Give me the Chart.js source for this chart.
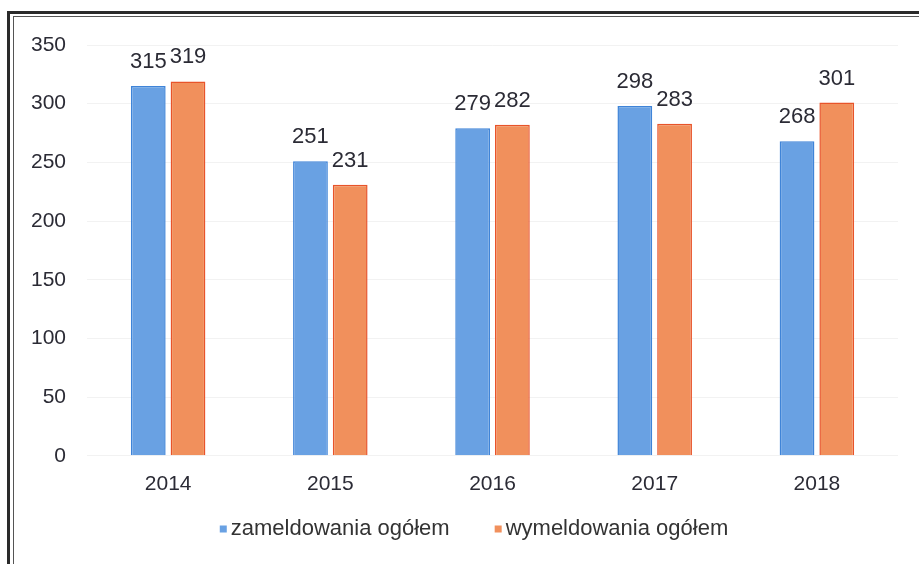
<!DOCTYPE html>
<html>
<head>
<meta charset="utf-8">
<script src="https://cdn.jsdelivr.net/npm/chart.js@4/dist/chart.umd.min.js"></script>
<style>
  html, body { margin: 0; padding: 0; background: #fff; overflow: hidden; }
  .frame-outer { position: absolute; left: 7px; top: 11px; width: 1000px; height: 700px; border-left: 3px solid #2a2a2a; border-top: 3px solid #2a2a2a; }
  .frame-inner { position: absolute; left: 13px; top: 16px; width: 1000px; height: 700px; border-left: 1px solid #555; border-top: 1px solid #555; }
  #wrap { position: absolute; left: 0; top: 0; width: 919px; height: 564px; }
</style>
</head>
<body>
<div class="frame-outer"></div>
<div class="frame-inner"></div>
<div id="wrap"><canvas id="chart"></canvas></div>
<script>
const years = ['2014', '2015', '2016', '2017', '2018']
const zameldowania = [315, 251, 279, 298, 268]
const wymeldowania = [319, 231, 282, 283, 301]
const seriesNames = ['zameldowania ogółem', 'wymeldowania ogółem']
const yMin = 0
const yMax = 350
const yStep = 50

const FONT = '"Liberation Sans", Arial, sans-serif'
const TEXT = '#2b2b35'

// numbers above the bars
const valueLabels = {
  id: 'valueLabels',
  afterDatasetsDraw(chart) {
    const ctx = chart.ctx
    ctx.save()
    ctx.font = '22px ' + FONT
    ctx.fillStyle = TEXT
    ctx.textAlign = 'center'
    ctx.textBaseline = 'alphabetic'
    chart.data.datasets.forEach((ds, i) => {
      chart.getDatasetMeta(i).data.forEach((bar, j) => {
        ctx.fillText(String(ds.data[j]), bar.x, bar.y - 18)
      })
    })
    ctx.restore()
  }
}

// legend drawn by hand so the box sits right next to the text
const smallLegend = {
  id: 'smallLegend',
  afterDraw(chart) {
    const ctx = chart.ctx
    ctx.save()
    ctx.font = '22px ' + FONT
    ctx.textBaseline = 'middle'
    const box = 7, gap = 4, between = 45
    const items = chart.data.datasets.map(ds => ({
      text: ds.label, color: ds.backgroundColor, w: box + gap + ctx.measureText(ds.label).width
    }))
    const total = items.reduce((s, it) => s + it.w, 0) + between * (items.length - 1)
    let x = 474 - total / 2
    const y = 529
    items.forEach(it => {
      ctx.fillStyle = it.color
      ctx.fillRect(x, y - box / 2, box, box)
      ctx.fillStyle = '#333'
      ctx.fillText(it.text, x + box + gap, y)
      x += it.w + between
    })
    ctx.restore()
  }
}

new Chart(document.getElementById('chart'), {
  type: 'bar',
  data: {
    labels: years,
    datasets: [
      {
        label: seriesNames[0],
        data: zameldowania,
        backgroundColor: '#69a1e3',
        borderColor: '#3f84d8',
        borderWidth: 1.5,
        borderSkipped: 'bottom'
      },
      {
        label: seriesNames[1],
        data: wymeldowania,
        backgroundColor: '#f1905c',
        borderColor: '#e8542a',
        borderWidth: 1.5,
        borderSkipped: 'bottom'
      }
    ]
  },
  options: {
    responsive: true,
    maintainAspectRatio: false,
    animation: false,
    layout: { padding: { left: 10, right: 21, top: 45, bottom: 51 } },
    datasets: { bar: { categoryPercentage: 0.49, barPercentage: 0.875 } },
    plugins: {
      legend: { display: false },
      tooltip: { enabled: false }
    },
    scales: {
      x: {
        grid: { display: false, drawTicks: false },
        border: { display: false },
        ticks: { color: TEXT, font: { family: FONT, size: 21 }, padding: 16 }
      },
      y: {
        min: yMin,
        max: yMax,
        grid: { color: 'rgba(0,0,0,0.05)', drawTicks: false },
        border: { display: false },
        ticks: { stepSize: yStep, color: TEXT, font: { family: FONT, size: 21 }, padding: 21 }
      }
    }
  },
  plugins: [valueLabels, smallLegend]
})
</script>
</body>
</html>
